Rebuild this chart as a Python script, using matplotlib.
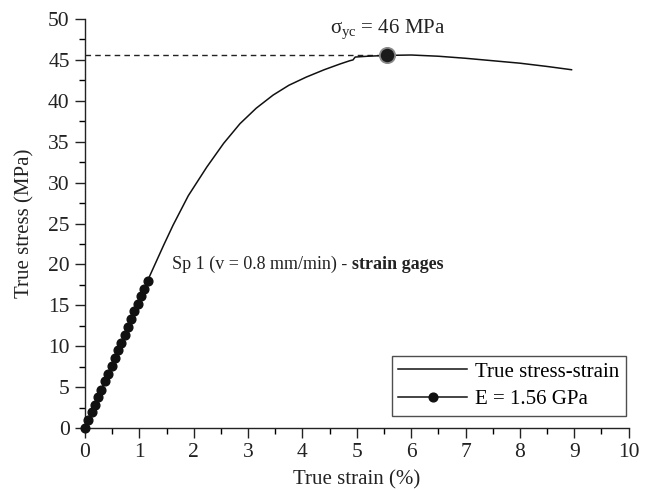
import numpy as np
import matplotlib
matplotlib.use('Agg')
import matplotlib.pyplot as plt
from matplotlib.ticker import MultipleLocator

plt.rcParams['font.family'] = ['Liberation Serif', 'DejaVu Serif']
plt.rcParams['mathtext.fontset'] = 'custom'
plt.rcParams['mathtext.rm'] = 'Liberation Serif'
plt.rcParams['mathtext.it'] = 'Liberation Serif:italic'

# true stress-strain curve (strain in %, stress in MPa)
strain = [0.0, 0.5, 1.0, 1.15, 1.3, 1.45, 1.62, 1.9, 2.24, 2.55, 2.85, 3.15,
          3.46, 3.75, 4.07, 4.4, 4.69, 4.87, 4.93, 4.97, 5.2, 5.56, 6.0, 6.5,
          7.0, 7.5, 8.0, 8.5, 8.95]
stress = [0.0, 7.8, 15.6, 18.0, 20.2, 22.4, 24.8, 28.4, 31.9, 34.8, 37.2, 39.1,
          40.7, 41.9, 42.9, 43.8, 44.5, 44.9, 45.0, 45.35, 45.45, 45.55, 45.6, 45.45,
          45.2, 44.9, 44.6, 44.2, 43.8]

# elastic fit points (E = 1.56 GPa)
fit_strain = [0.0, 0.06, 0.12, 0.18, 0.24, 0.30, 0.36, 0.43, 0.49, 0.55,
              0.61, 0.67, 0.73, 0.79, 0.85, 0.91, 0.97, 1.03, 1.09, 1.15]
fit_stress = [0.0, 0.95, 1.9, 2.85, 3.8, 4.7, 5.7, 6.65, 7.6, 8.55,
              9.5, 10.45, 11.4, 12.3, 13.3, 14.25, 15.2, 16.1, 17.05, 18.0]

# yield point
yield_strain = 5.56
yield_stress = 45.6

fig = plt.figure(figsize=(6.51, 4.9), dpi=100)
ax = fig.add_axes([0.1306, 0.1265, 0.8350, 0.8347])

ax.axhline(yield_stress, xmin=0, xmax=yield_strain / 10, color='#222222',
           lw=1.0, ls=(0, (4, 3)))
ax.plot(strain, stress, color='#111111', lw=1.1, label='True stress-strain',
        clip_on=False)
ax.plot(fit_strain, fit_stress, color='#111111', lw=1.1, marker='o', ms=6.3,
        label='E = 1.56 GPa', clip_on=False, zorder=3)
ax.plot([yield_strain], [yield_stress], 'o', ms=11, color='#1a1a1a',
        mec='#8a8a8a', mew=1.3, zorder=4)

ax.text(yield_strain, 47.3, r'$\mathregular{\sigma_{yc}}$ = 46 MPa',
        ha='center', va='bottom', fontsize=15, color='#222222')
ax.text(1.6, 20.0, 'Sp 1 (v = 0.8 mm/min) - ', fontsize=13,
        va='center', ha='left', color='#222222')
ax.annotate('strain gages', xy=(1.0, 0.5), xycoords=ax.texts[-1],
            va='center', ha='left', fontsize=13, fontweight='bold', color='#222222')

ax.set_xlim(0, 10)
ax.set_ylim(0, 50)
ax.xaxis.set_major_locator(MultipleLocator(1))
ax.xaxis.set_minor_locator(MultipleLocator(0.5))
ax.yaxis.set_major_locator(MultipleLocator(5))
ax.yaxis.set_minor_locator(MultipleLocator(2.5))
ax.tick_params(which='major', direction='out', length=7, width=1, labelsize=15.5,
               colors='#222222', pad=4)
ax.tick_params(which='minor', direction='out', length=4, width=1)
ax.spines['top'].set_visible(False)
ax.spines['right'].set_visible(False)
for s in ['left', 'bottom']:
    ax.spines[s].set_linewidth(1.0)
    ax.spines[s].set_color('#222222')

ax.set_xlabel('True strain (%)', fontsize=15, color='#222222', labelpad=6)
ax.set_ylabel('True stress (MPa)', fontsize=15, color='#222222', labelpad=10)

leg = ax.legend(loc='lower right', bbox_to_anchor=(0.995, 0.03), fontsize=15,
                frameon=True, fancybox=False, edgecolor='#222222',
                handlelength=3.3, borderpad=0.3, labelspacing=0.4, handletextpad=0.4,
                borderaxespad=0.0)
leg.get_frame().set_linewidth(1.0)

fig.savefig('out.png', dpi=100)
